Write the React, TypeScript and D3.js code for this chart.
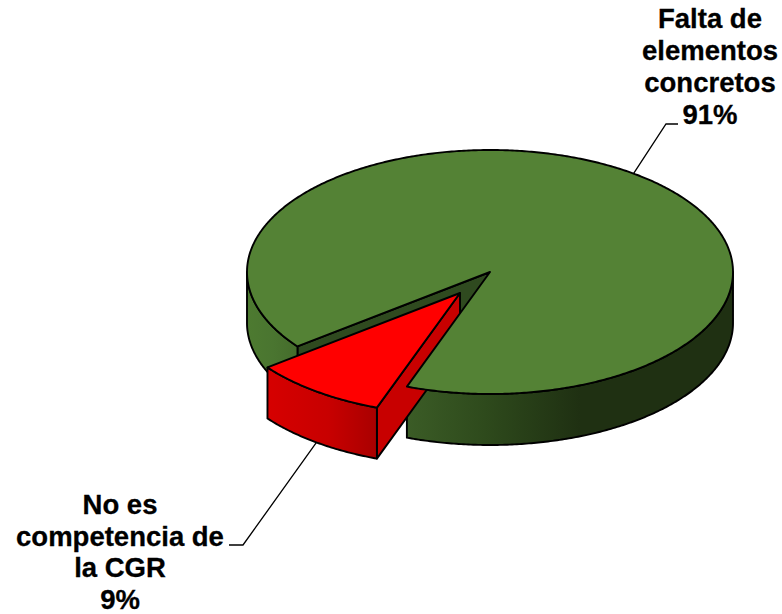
import React from "react";
import * as d3 from "d3";

const categories = ["Falta de elementos concretos", "No es competencia de la CGR"];
const values = [91, 9];
const labelLines = [
  ["Falta de", "elementos", "concretos", "91%"],
  ["No es", "competencia de", "la CGR", "9%"],
];

const W = 782, H = 614;
const depth = 51;
const explode = { x: -30, y: 21 };
const startDeg = 232.4;

const xs = d3.scaleLinear().domain([-1, 1]).range([247, 733]);
const ys = d3.scaleLinear().domain([-1, 1]).range([150, 394]);

const slices = d3.pie<number>().sort(null).value((d) => d)
  .startAngle((startDeg * Math.PI) / 180)
  .endAngle(((startDeg + 360) * Math.PI) / 180)(values);

type P = [number, number];
const line = d3.line<P>().x((d) => d[0]).y((d) => d[1]);
const pt = (a: number, dx = 0, dy = 0, r = 1): P => [xs(r * Math.sin(a)) + dx, ys(-r * Math.cos(a)) + dy];
const arcPts = (a0: number, a1: number, dx = 0, dy = 0): P[] => {
  const n = Math.max(2, Math.ceil(Math.abs(a1 - a0) / 0.01));
  return d3.range(n + 1).map((i) => pt(a0 + ((a1 - a0) * i) / n, dx, dy));
};
const topPath = (a0: number, a1: number, dx = 0, dy = 0) =>
  line([pt(0, dx, dy, 0), ...arcPts(a0, a1, dx, dy)]) + "Z";
const wallPath = (a0: number, a1: number, dx = 0, dy = 0) =>
  line([...arcPts(a0, a1, dx, dy), ...arcPts(a1, a0, dx, dy + depth)]) + "Z";
const radialWall = (a: number, dx = 0, dy = 0) =>
  line([pt(0, dx, dy, 0), pt(a, dx, dy), pt(a, dx, dy + depth), pt(0, dx, dy + depth, 0)]) + "Z";

const green = slices[0];
const red = slices[1];
const TAU = Math.PI * 2;
const rad = (d: number) => (d * Math.PI) / 180;

const greenMid = (green.startAngle + green.endAngle) / 2;
const redMid = (red.startAngle + red.endAngle) / 2;
const leaderA: P[] = [pt(greenMid), [666, 124], [678, 124]];
const leaderB: P[] = [pt(redMid, explode.x, explode.y + depth), [243, 545], [229, 545]];

const textStyle: React.CSSProperties = {
  fontFamily: "'Liberation Sans', Arial, sans-serif",
  fontWeight: 700,
  fontSize: 27.5,
  fill: "#000",
  stroke: "#000",
  strokeWidth: 0.3,
  textAnchor: "middle",
};

export default function App() {
  return (
    <svg width={W} height={H} viewBox={`0 0 ${W} ${H}`} style={{ position: "absolute", left: 0, top: 0, background: "#fff" }}
      aria-label={categories.join(", ")}>
      <defs>
        <linearGradient id="gRight" gradientUnits="userSpaceOnUse" x1={407} x2={580} y1={0} y2={0}>
          <stop offset="0" stopColor="#3b5c26" />
          <stop offset="0.45" stopColor="#2e4a1c" />
          <stop offset="1" stopColor="#1f3012" />
        </linearGradient>
        <linearGradient id="gLeft" gradientUnits="userSpaceOnUse" x1={247} x2={300} y1={0} y2={0}>
          <stop offset="0" stopColor="#4d7a30" />
          <stop offset="0.5" stopColor="#4a7530" />
          <stop offset="1" stopColor="#446b2b" />
        </linearGradient>
        <linearGradient id="rWall" gradientUnits="userSpaceOnUse" x1={268} x2={378} y1={0} y2={0}>
          <stop offset="0" stopColor="#d60000" />
          <stop offset="0.55" stopColor="#c80000" />
          <stop offset="1" stopColor="#a80000" />
        </linearGradient>
      </defs>
      <g stroke="#000" strokeWidth={1.9} strokeLinejoin="round">
        {/* green inner wall seen through the gap */}
        <path d={radialWall(green.startAngle)} fill="#2f4a1f" />
        {/* green outer walls */}
        <path d={wallPath(green.startAngle, rad(270))} fill="url(#gLeft)" />
        <path d={wallPath(rad(450), green.endAngle)} fill="url(#gRight)" />
        {/* red radial wall, behind the green top */}
        <path d={radialWall(red.startAngle - TAU, explode.x, explode.y)} fill="#c80000" />
        <path d={topPath(green.startAngle, green.endAngle)} fill="#548235" />
        {/* red front */}
        <path d={wallPath(red.startAngle, red.endAngle, explode.x, explode.y)} fill="url(#rWall)" />
        <path d={topPath(red.startAngle, red.endAngle, explode.x, explode.y)} fill="#ff0000" />
      </g>
      <g fill="none" stroke="#000" strokeWidth={1.3}>
        <path d={line(leaderA) ?? ""} />
        <path d={line(leaderB) ?? ""} />
      </g>
      <g style={textStyle}>
        {labelLines[0].map((t, i) => (
          <text key={t} x={710} y={28 + i * 32}>{t}</text>
        ))}
        {labelLines[1].map((t, i) => (
          <text key={t} x={120} y={514 + i * 31.5}>{t}</text>
        ))}
      </g>
    </svg>
  );
}
